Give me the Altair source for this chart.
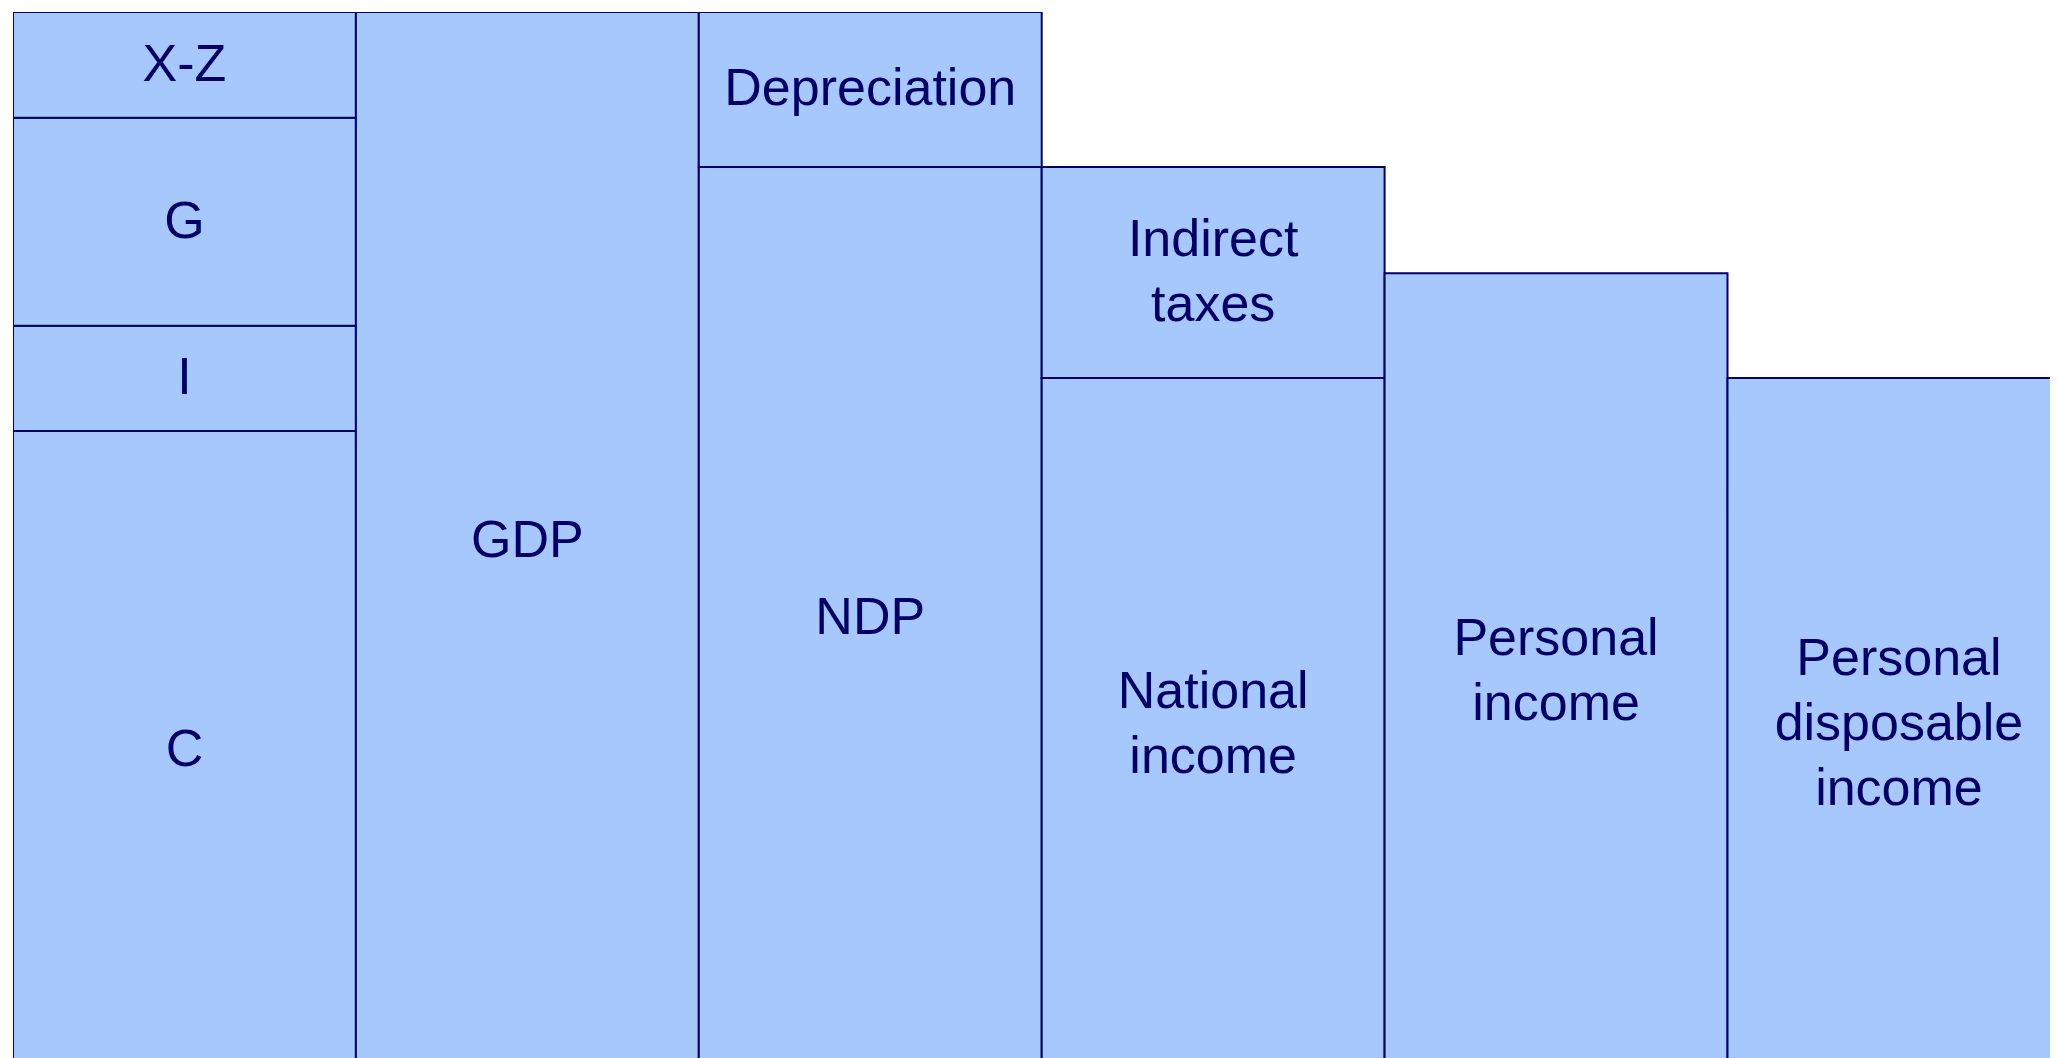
import altair as alt
import pandas as pd

# Column-by-column stacked components (bottom to top), values in % of GDP
columns = [0, 1, 2, 3, 4, 5]
segment_labels = [
    ["C", "I", "G", "X-Z"],
    ["GDP"],
    ["NDP", "Depreciation"],
    ["National\nincome", "Indirect\ntaxes"],
    ["Personal\nincome"],
    ["Personal\ndisposable\nincome"],
]
segment_values = [
    [60.4, 9.95, 19.65, 10.0],
    [100.0],
    [85.35, 14.65],
    [65.4, 19.95],
    [75.3],
    [65.4],
]

rows = []
for col, labels, vals in zip(columns, segment_labels, segment_values):
    base = 0.0
    for lab, v in zip(labels, vals):
        rows.append({
            "x0": col, "x1": col + 1, "xm": col + 0.5,
            "y0": base, "y1": base + v, "ym": base + v / 2,
            "label": lab, "nlines": lab.count("\n") + 1,
        })
        base += v
df = pd.DataFrame(rows)

PLOT_W = 2037
COL_W = 342.9
LINE_H = 65
xs = alt.Scale(domain=[0, PLOT_W / COL_W], nice=False, zero=False)
ys = alt.Scale(domain=[0, 100], nice=False, zero=False)

rects = alt.Chart(df).mark_rect(
    fill="#A6C8FD", stroke="#000066", strokeWidth=2, clip=True
).encode(
    x=alt.X("x0:Q", scale=xs, axis=None),
    x2="x1:Q",
    y=alt.Y("y0:Q", scale=ys, axis=None),
    y2="y1:Q",
)

text_layers = []
for n in [1, 2, 3]:
    text_layers.append(
        alt.Chart(df).transform_filter(alt.datum.nlines == n).mark_text(
            font="Liberation Sans", fontSize=52, color="#000066",
            align="center", baseline="middle", lineBreak="\n",
            lineHeight=LINE_H, dy=-(n - 1) * LINE_H / 2,
        ).encode(
            x=alt.X("xm:Q", scale=xs, axis=None),
            y=alt.Y("ym:Q", scale=ys, axis=None),
            text="label:N",
        )
    )

chart = alt.layer(rects, *text_layers).properties(
    width=PLOT_W, height=1058,
    padding={"left": 5, "top": 4, "right": 0, "bottom": 0},
).configure_view(strokeWidth=0)

chart.save("out.html", embed_options={"renderer": "svg", "actions": False})
